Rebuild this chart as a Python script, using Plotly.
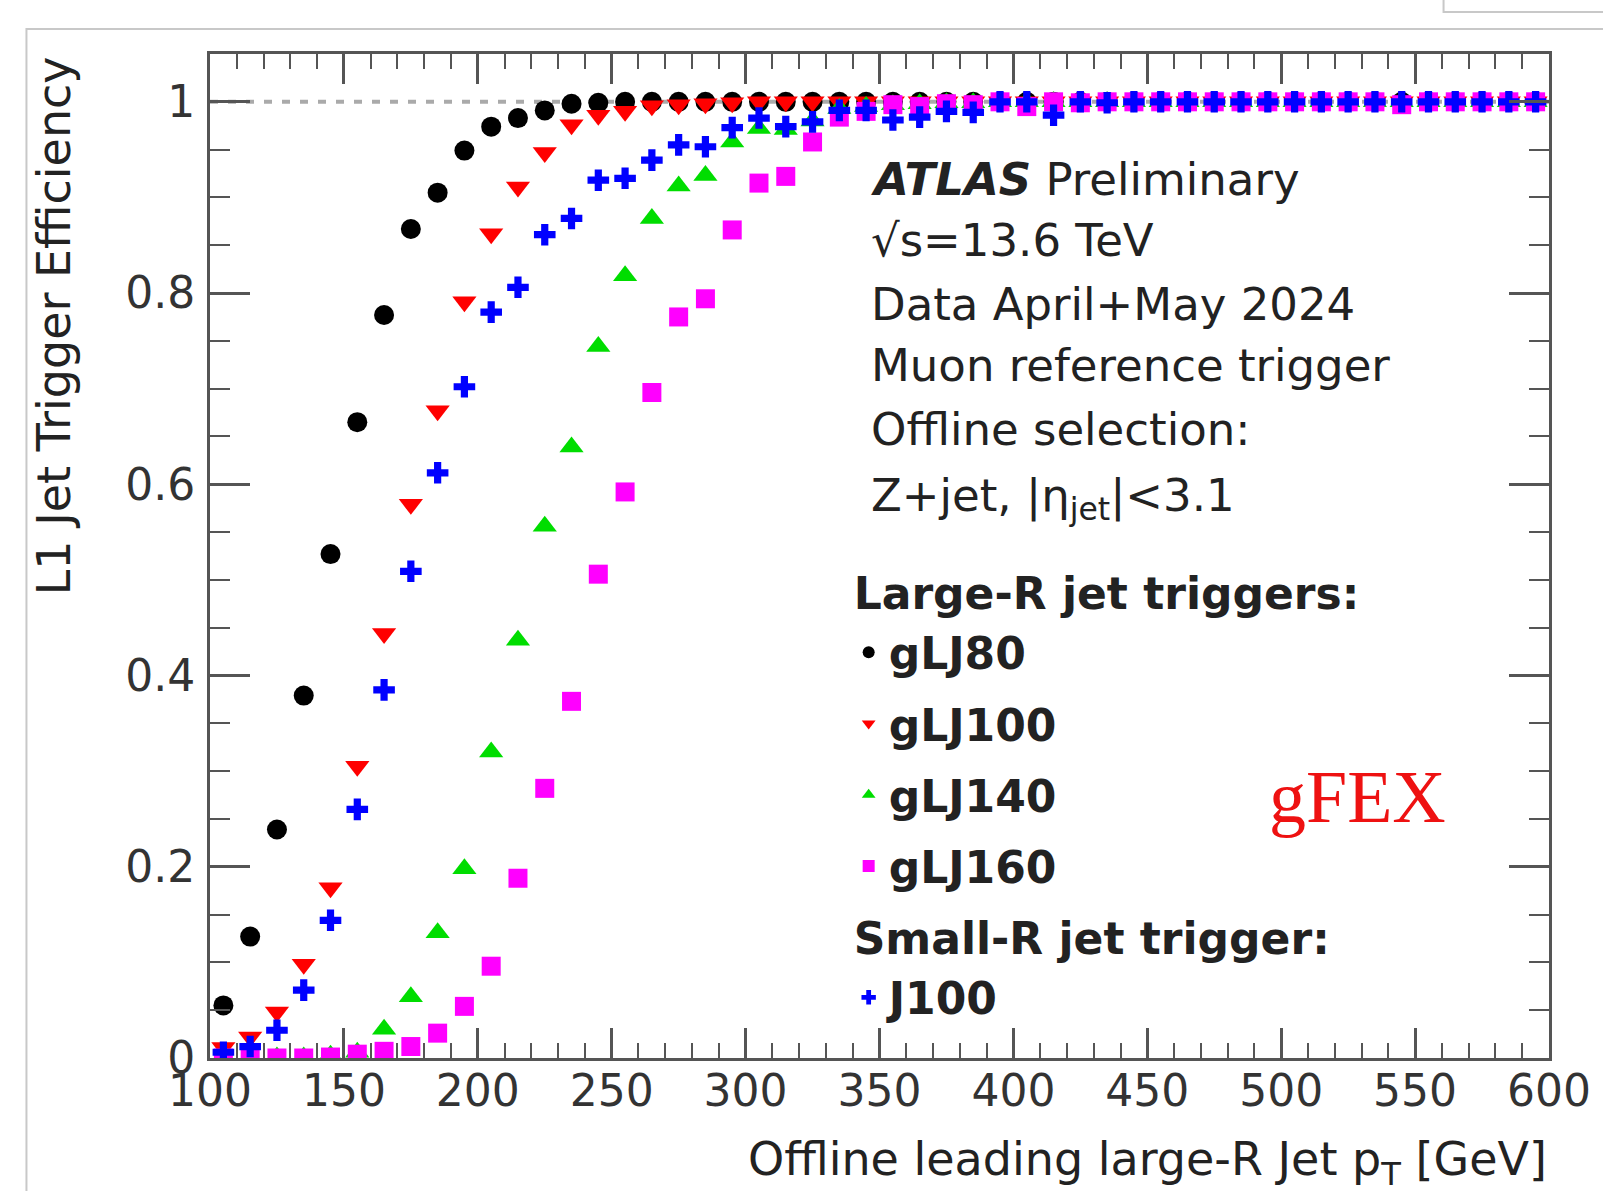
import plotly.graph_objects as go

# ---------------- data ----------------
pt_bins = [105, 115, 125, 135, 145, 155, 165, 175, 185, 195,
           205, 215, 225, 235, 245, 255, 265, 275, 285, 295,
           305, 315, 325, 335, 345, 355, 365, 375, 385, 395,
           405, 415, 425, 435, 445, 455, 465, 475, 485, 495,
           505, 515, 525, 535, 545, 555, 565, 575, 585, 595]

eff_gLJ80 = [0.055, 0.127, 0.239, 0.379, 0.527, 0.665, 0.777, 0.867, 0.905, 0.949,
             0.974, 0.983, 0.991, 0.998, 0.999, 1.0, 1.0, 1.0, 1.0, 1.0,
             1.0, 1.0, 1.0, 1.0, 1.0, 1.0, 1.0, 1.0, 1.0, 1.0,
             1.0, 1.0, 1.0, 1.0, 1.0, 1.0, 1.0, 1.0, 1.0, 1.0,
             1.0, 1.0, 1.0, 1.0, 1.0, 1.0, 1.0, 1.0, 1.0, 1.0]

eff_gLJ100 = [0.011, 0.022, 0.048, 0.098, 0.178, 0.305, 0.444, 0.579, 0.677, 0.791,
              0.862, 0.911, 0.947, 0.976, 0.986, 0.990, 0.996, 0.997, 0.998, 0.999,
              1.0, 1.0, 1.0, 1.0, 1.0, 1.0, 1.0, 1.0, 1.0, 1.0,
              1.0, 1.0, 1.0, 1.0, 1.0, 1.0, 1.0, 1.0, 1.0, 1.0,
              1.0, 1.0, 1.0, 1.0, 1.0, 1.0, 1.0, 1.0, 1.0, 1.0]

eff_gLJ140 = [0.0, 0.0, 0.001, 0.001, 0.003, 0.006, 0.030, 0.064, 0.131, 0.198,
              0.320, 0.437, 0.556, 0.639, 0.744, 0.818, 0.878, 0.912, 0.923, 0.958,
              0.972, 0.971, 0.980, 0.993, 0.995, 0.997, 0.998, 0.999, 0.999, 1.0,
              1.0, 1.0, 1.0, 1.0, 1.0, 1.0, 1.0, 1.0, 1.0, 1.0,
              1.0, 1.0, 1.0, 1.0, 1.0, 1.0, 1.0, 1.0, 1.0, 1.0]

eff_gLJ160 = [0.0, 0.0, 0.0, 0.0, 0.001, 0.004, 0.007, 0.012, 0.026, 0.054,
              0.096, 0.188, 0.282, 0.373, 0.506, 0.592, 0.696, 0.775, 0.794, 0.866,
              0.915, 0.922, 0.958, 0.984, 0.990, 0.997, 0.995, 0.998, 0.997, 1.0,
              0.995, 1.0, 0.999, 1.0, 1.0, 1.0, 1.0, 1.0, 1.0, 1.0,
              1.0, 1.0, 1.0, 1.0, 0.997, 1.0, 1.0, 1.0, 1.0, 1.0]

eff_J100 = [0.006, 0.012, 0.029, 0.071, 0.144, 0.260, 0.385, 0.509, 0.612, 0.702,
            0.780, 0.806, 0.861, 0.878, 0.918, 0.920, 0.939, 0.955, 0.953, 0.973,
            0.983, 0.974, 0.979, 0.991, 0.991, 0.981, 0.984, 0.990, 0.989, 1.0,
            1.0, 0.986, 1.0, 0.999, 1.0, 1.0, 1.0, 1.0, 1.0, 1.0,
            1.0, 1.0, 1.0, 1.0, 1.0, 1.0, 1.0, 1.0, 1.0, 1.0]

series_names = ["gLJ80", "gLJ100", "gLJ140", "gLJ160", "J100"]
x_tick_vals = [100, 150, 200, 250, 300, 350, 400, 450, 500, 550, 600]
y_tick_vals = [0, 0.2, 0.4, 0.6, 0.8, 1.0]
y_tick_text = ["0", "0.2", "0.4", "0.6", "0.8", "1"]

# ---------------- styling ----------------
W, H = 1603, 1191
L, R, T, B = 210, 47, 54, 133
PW, PH = W - L - R, H - T - B


def px(xp):
    return (xp - L) / PW


def py(yp):
    return (H - B - yp) / PH


FONT = "DejaVu Sans"
TXT = "#222222"
AX = "#555555"

styles = {
    "gLJ80": dict(symbol="circle", size=20, color="#000000"),
    "gLJ100": dict(symbol="triangle-down", size=21, color="#ff0000"),
    "gLJ140": dict(symbol="triangle-up", size=21, color="#00dd00"),
    "gLJ160": dict(symbol="square", size=19, color="#ff00ff"),
    "J100": dict(symbol="cross", size=18, color="#0000ff"),
}
group_titles = {"gLJ80": "Large-R jet triggers:", "J100": "Small-R jet trigger:"}
values = {"gLJ80": eff_gLJ80, "gLJ100": eff_gLJ100, "gLJ140": eff_gLJ140,
          "gLJ160": eff_gLJ160, "J100": eff_J100}

fig = go.Figure()
for name in series_names:
    st = styles[name]
    kw = {}
    if name in group_titles:
        kw["legendgrouptitle"] = dict(text=group_titles[name])
    fig.add_trace(go.Scatter(
        x=pt_bins, y=values[name], mode="markers", name=name,
        legendgroup=name,
        marker=dict(symbol=st["symbol"], size=st["size"], color=st["color"],
                    line=dict(width=0)),
        **kw))

# dotted reference line at efficiency 1
fig.add_shape(type="line", xref="x", yref="y", x0=100, x1=600, y0=1, y1=1,
              line=dict(color="#aaaaaa", width=4, dash="8px,10px"), layer="below")

# outer screenshot frame and small box top-right
fig.add_shape(type="rect", xref="paper", yref="paper",
              x0=px(25.5), x1=px(1620), y0=py(1210), y1=py(29),
              line=dict(color="#c8c8c8", width=2))
fig.add_shape(type="rect", xref="paper", yref="paper",
              x0=px(1450), x1=px(1620), y0=py(12), y1=py(-10),
              line=dict(color="#c8c8c8", width=2))

ann = []
lines = [
    ("<b><i>ATLAS</i></b> Preliminary", 179),
    ("√s=13.6 TeV", 241),
    ("Data April+May 2024", 304),
    ("Muon reference trigger", 366),
    ("Offline selection:", 429),
    ("Z+jet, |η<sub>jet</sub>|&lt;3.1", 498),
]
for txt, yc in lines:
    ann.append(dict(text=txt, xref="paper", yref="paper", x=px(872), y=py(yc),
                    xanchor="left", yanchor="middle", showarrow=False,
                    font=dict(family=FONT, size=45, color=TXT)))

ann.append(dict(text="gFEX", xref="paper", yref="paper", x=px(1364), y=py(797),
                xanchor="center", yanchor="middle", showarrow=False,
                font=dict(family="Liberation Serif", size=74, color="#ee1111")))

ann.append(dict(text="Offline leading large-R Jet p<sub>T</sub> [GeV]", xref="paper",
                yref="paper", x=1.0, y=py(1162), xanchor="right", yanchor="middle",
                showarrow=False, font=dict(family=FONT, size=46, color=TXT)))
ann.append(dict(text="L1 Jet Trigger Efficiency", xref="paper", yref="paper",
                x=px(53), y=1.0, xanchor="center", yanchor="top", textangle=-90,
                showarrow=False, font=dict(family=FONT, size=46, color=TXT)))

fig.update_layout(
    width=W, height=H,
    margin=dict(l=L, r=R, t=T, b=B, pad=0),
    paper_bgcolor="white", plot_bgcolor="white",
    annotations=ann,
    showlegend=True,
    legend=dict(x=px(852), y=py(557), xanchor="left", yanchor="top",
                bgcolor="rgba(0,0,0,0)", borderwidth=0,
                traceorder="grouped", tracegroupgap=11, itemsizing="constant",
                font=dict(family=FONT, size=44, color=TXT, weight="bold"),
                grouptitlefont=dict(family=FONT, size=44, color=TXT, weight="bold")),
    xaxis=dict(range=[100, 600], tickvals=x_tick_vals, ticks="inside", ticklen=30,
               tickwidth=2.5, tickcolor=AX, showline=True, linecolor=AX, linewidth=3,
               mirror="ticks", showgrid=False, zeroline=False,
               minor=dict(dtick=10, ticks="inside", ticklen=15, tickwidth=2,
                          tickcolor=AX, showgrid=False),
               tickfont=dict(family=FONT, size=44, color="#333333"),
               ticklabelstandoff=-8),
    yaxis=dict(range=[0, 1.05], tickvals=y_tick_vals, ticktext=y_tick_text,
               ticks="inside", ticklen=40, tickwidth=2.5, tickcolor=AX,
               showline=True, linecolor=AX, linewidth=3, mirror="ticks",
               showgrid=False, zeroline=False,
               minor=dict(dtick=0.05, ticks="inside", ticklen=20, tickwidth=2,
                          tickcolor=AX, showgrid=False),
               tickfont=dict(family=FONT, size=44, color="#333333"),
               ticklabelstandoff=3),
)

fig.write_html("out.html")
